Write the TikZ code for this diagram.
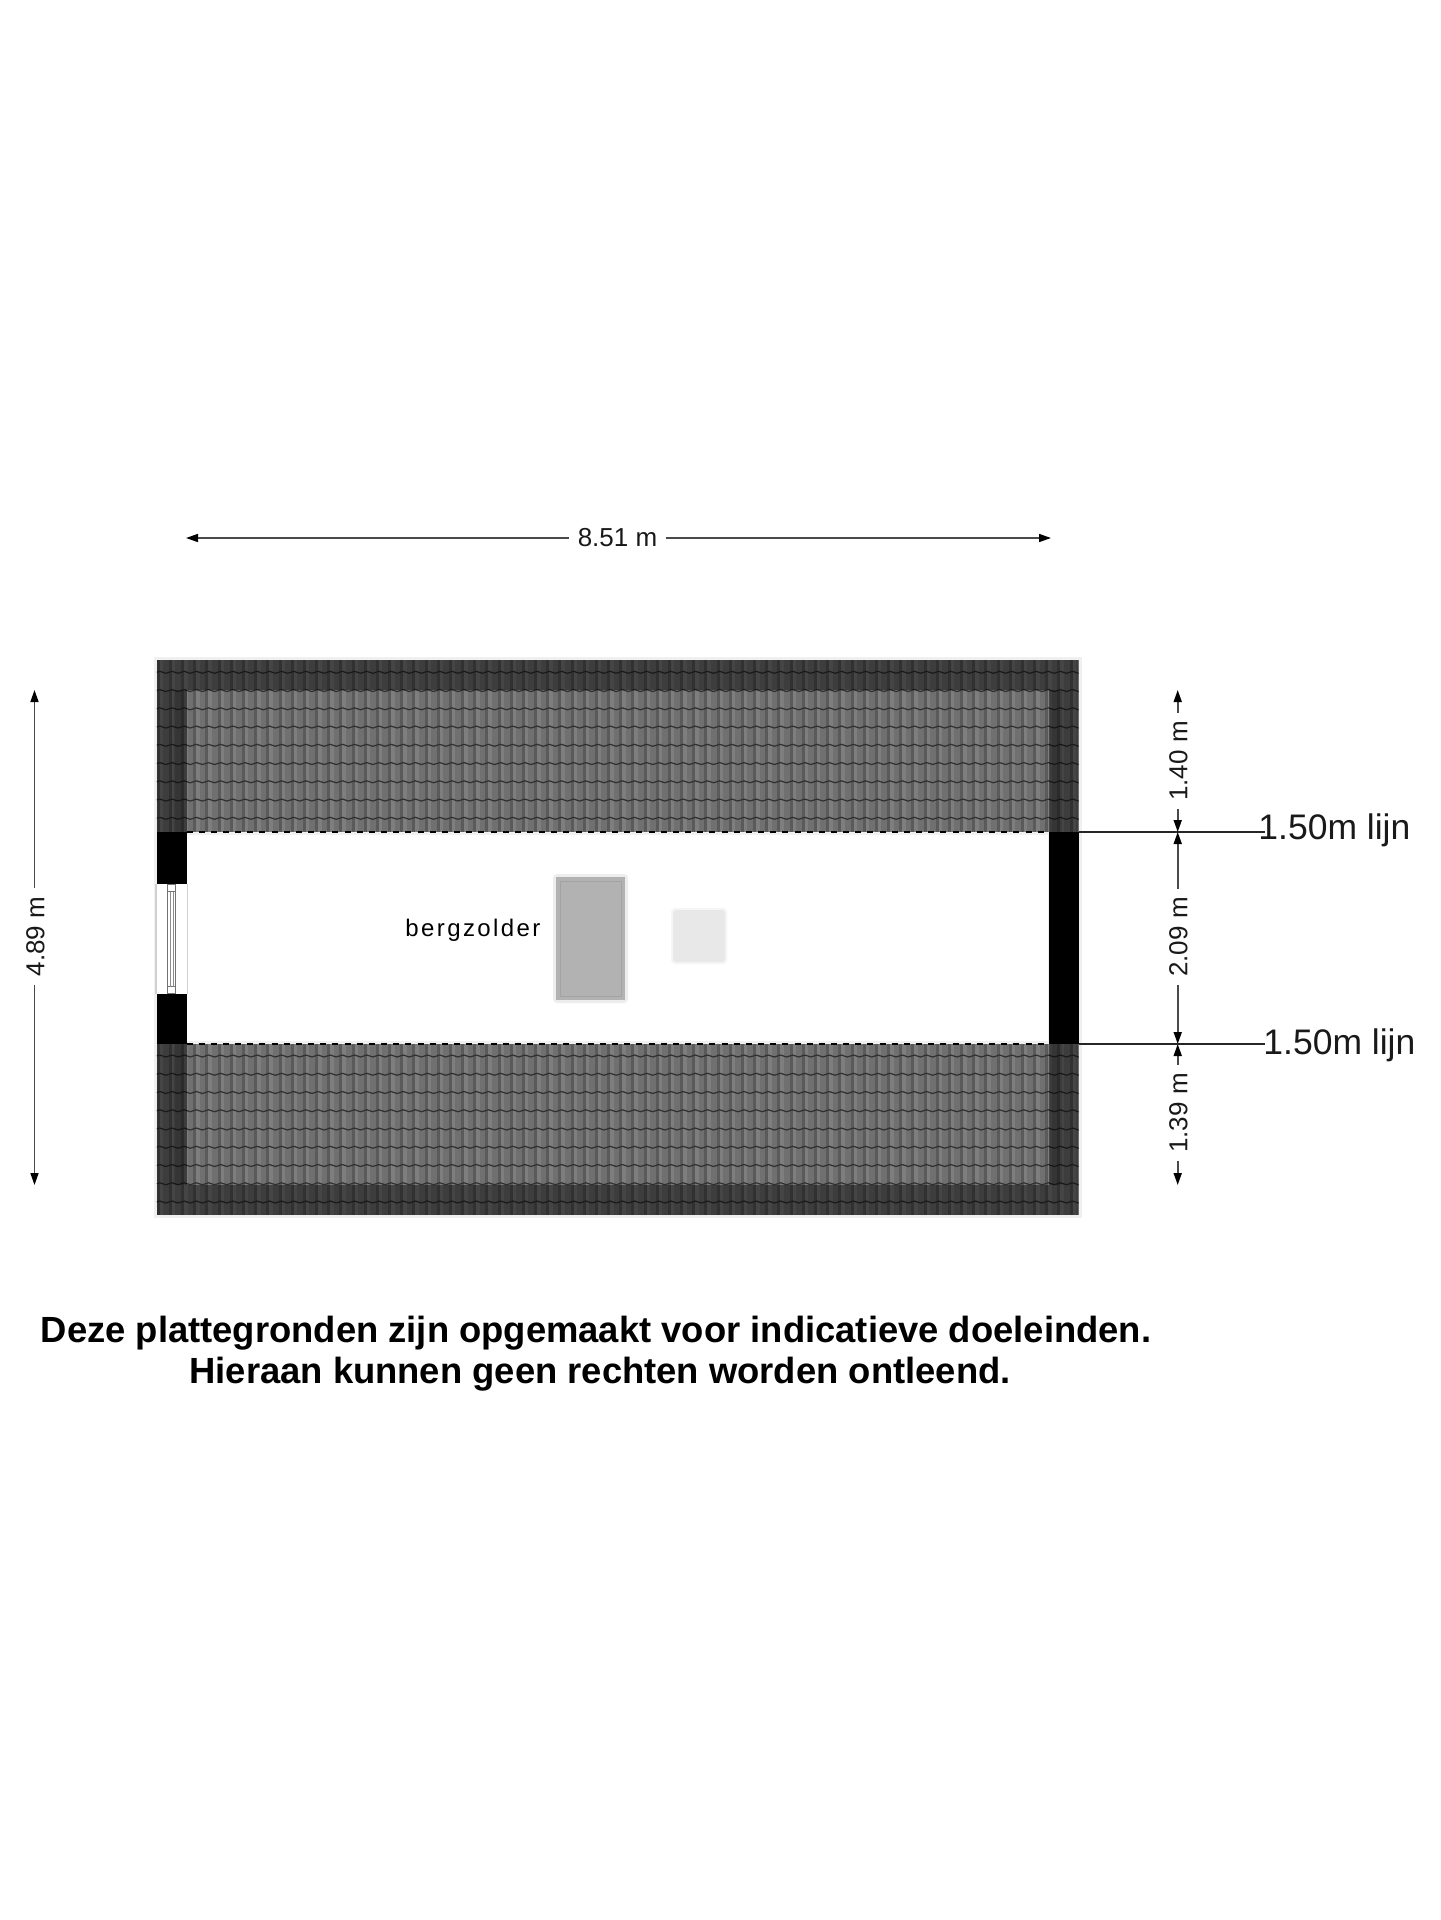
\documentclass[tikz,border=0pt]{standalone}
\usepackage{fontspec}
\setmainfont{Liberation Sans}
\newfontfamily\spacedfont[LetterSpace=10]{Liberation Sans}
\usetikzlibrary{arrows.meta}
\definecolor{tilebase}{HTML}{707070}
\definecolor{tiledark}{HTML}{5A5A5A}
\definecolor{tilelight}{HTML}{7E7E7E}
\definecolor{wavecol}{HTML}{303030}
\definecolor{glowcol}{HTML}{F0F0F0}
\definecolor{dimcol}{HTML}{4A4A4A}
\tikzset{
  dimline/.style={draw=dimcol, line width=0.8pt, -{Triangle[length=6pt, width=4pt, color=black]}},
  dimtext/.style={font=\fontsize{13}{15}\selectfont, inner sep=4pt, text=black!90},
  lijnline/.style={draw=black!85, line width=1pt},
  lijntext/.style={font=\fontsize{17.75}{20}\selectfont, anchor=base west, inner sep=0pt, text=black!90},
  wallbox/.style={fill=black},
  framebar/.style={draw=black!55, line width=0.4pt, fill=white},
  noteline/.style={font=\bfseries\fontsize{18.2}{20.5}\selectfont, inner sep=0pt}
}
\begin{document}
\begin{tikzpicture}[x=0.5pt, y=-0.5pt]
  \useasboundingbox (0, 0) rectangle (1440, 1920);
  \fill [white] (0, 0) rectangle (1440, 1920);

  \pgfmathsetmacro{\xl}{156.5};
  \pgfmathsetmacro{\xr}{1078.7};
  \pgfmathsetmacro{\pitch}{12.17};

  % soft edge round the roof and the walls
  \fill [glowcol] (\xl-3, 656.5) rectangle (\xr+3, 1218);
  \fill [white] (\xl+30, 835) rectangle (1048, 1041);

  % the two roof fields
  \foreach \ytop/\ybot/\yrow in {659.5/832/672.3, 1043.5/1215/1056} {
    \begin{scope}
      \clip (\xl, \ytop) rectangle (\xr, \ybot);
      \fill [tilebase] (\xl, \ytop) rectangle (\xr, \ybot);
      \foreach \k in {0,...,75} {
        \pgfmathsetmacro{\xc}{156.8+\pitch*\k};
        \fill [tiledark] (\xc, \ytop) rectangle (\xc+3, \ybot);
        \fill [tilelight] (\xc+3, \ytop) rectangle (\xc+6.5, \ybot);
      }
      \foreach \r in {0,...,8} {
        \draw [wavecol, line width=0.6pt]
          foreach \k in {0,...,75} {
            (156.8+\pitch*\k, \yrow+18.25*\r)
              .. controls (156.8+\pitch*\k+4, \yrow+18.25*\r-3.5)
              and (156.8+\pitch*\k+8, \yrow+18.25*\r+3.5)
              .. (156.8+\pitch*\k+\pitch, \yrow+18.25*\r)
          };
      }
      % darker band along the eaves and the gables
      \fill [black, opacity=0.45] (\xl, 659.5) rectangle (\xr, 690);
      \fill [black, opacity=0.45] (\xl, 1185) rectangle (\xr, 1215);
      \fill [black, opacity=0.45] (\xl, 690) rectangle (186.5, 1185);
      \fill [black, opacity=0.45] (1048.5, 690) rectangle (\xr, 1185);
      \fill [black, opacity=0.12] (174, 690) rectangle (186.5, 1185);
      \fill [black, opacity=0.12] (1050, 690) rectangle (1062, 1185);
    \end{scope}
  }

  % dashes on the edge of the roof
  \draw [black, line width=1pt, dash pattern=on 3pt off 3.08pt] (186.5, 832) -- (1048.5, 832);
  \draw [black, line width=1pt, dash pattern=on 3pt off 3.08pt] (186.5, 1044) -- (1048.5, 1044);

  % walls
  \fill [wallbox] (\xl, 832) rectangle (186.5, 884);
  \fill [wallbox] (\xl, 994) rectangle (186.5, 1043.5);
  \fill [wallbox] (1048.5, 832) rectangle (\xr, 1043.5);

  % window
  \fill [white] (\xl, 884) rectangle (186.5, 994);
  \fill [black!18] (\xl-1.5, 884) rectangle (\xl, 994);
  \fill [black!18] (186.5, 884) rectangle (188, 994);
  \draw [framebar] (167.5, 884.5) rectangle (175.5, 891.5);
  \draw [framebar] (167.5, 986.5) rectangle (175.5, 993.5);
  \draw [framebar] (167.5, 891.5) rectangle (175.5, 986.5);
  \draw [black!45, line width=0.3pt] (170, 891.5) -- (170, 986.5);
  \draw [black!45, line width=0.3pt] (173, 891.5) -- (173, 986.5);

  % furniture
  \fill [black!7, rounded corners=2pt] (553, 874) rectangle (628, 1003);
  \fill [black!30] (556, 877) rectangle (625, 1000);
  \draw [black!36, line width=0.5pt] (560, 881) rectangle (621, 996);
  \fill [black!4, rounded corners=2pt] (671, 908) rectangle (727, 964);
  \fill [black!9, rounded corners=1.5pt] (673, 910) rectangle (725, 962);

  \node [anchor=base west, inner sep=0pt, font=\spacedfont\fontsize{12}{14}\selectfont] (bergzolder) at (405, 936) {bergzolder};

  % dimensions
  \node [dimtext] (breedte) at (617.5, 538) {8.51 m};
  \coordinate (breedteL) at (186, 538);
  \coordinate (breedteR) at (1051, 538);
  \draw [dimline] (breedte) -- (breedteL);
  \draw [dimline] (breedte) -- (breedteR);

  \coordinate (diepteT) at (34.5, 690);
  \coordinate (diepteB) at (34.5, 1185);
  \node [dimtext, rotate=90] (diepte) at (35.5, 936.5) {4.89 m};
  \draw [dimline] (diepte.east -| diepteT) -- (diepteT);
  \draw [dimline] (diepte.west -| diepteT) -- (diepteB);

  \coordinate (lijnA) at (1177.7, 832);
  \coordinate (lijnB) at (1177.7, 1044);
  \coordinate (maatT) at (1177.7, 690);
  \coordinate (maatB) at (1177.7, 1185);
  \node [dimtext, rotate=90] (maat1) at (1178.5, 761) {1.40 m};
  \node [dimtext, rotate=90] (maat2) at (1178.5, 937) {2.09 m};
  \node [dimtext, rotate=90] (maat3) at (1178.5, 1113) {1.39 m};
  \draw [dimline] (maat1.east -| maatT) -- (maatT);
  \draw [dimline] (maat1.west -| maatT) -- (lijnA);
  \draw [dimline] (maat2.east -| maatT) -- (lijnA);
  \draw [dimline] (maat2.west -| maatT) -- (lijnB);
  \draw [dimline] (maat3.east -| maatT) -- (lijnB);
  \draw [dimline] (maat3.west -| maatT) -- (maatB);

  % 1.50m lines
  \coordinate (muurA) at (\xr, 832);
  \coordinate (muurB) at (\xr, 1044);
  \coordinate (eindA) at (1265, 832);
  \coordinate (eindB) at (1265, 1044);
  \draw [lijnline] (muurA) -- (eindA);
  \draw [lijnline] (muurB) -- (eindB);
  \node [lijntext] (lijntekstA) at (1258, 839) {1.50m lijn};
  \node [lijntext] (lijntekstB) at (1263, 1054) {1.50m lijn};

  \node [noteline] (noteA) at (596, 1333.5) {Deze plattegronden zijn opgemaakt voor indicatieve doeleinden.};
  \node [noteline] (noteB) at (600, 1374.5) {Hieraan kunnen geen rechten worden ontleend.};
\end{tikzpicture}
\end{document}
